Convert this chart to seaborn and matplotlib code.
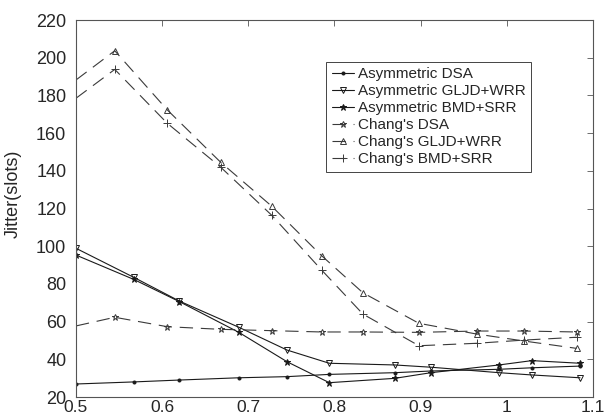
import matplotlib
matplotlib.use("Agg")
import matplotlib.pyplot as plt
import seaborn as sns
import pandas as pd
from matplotlib.ticker import FuncFormatter

# Load values for the asymmetric schemes
x_asym = [0.5, 0.567, 0.62, 0.689, 0.745, 0.794, 0.870, 0.912, 0.991, 1.029, 1.085]
asym_dsa = [26.9, 28.0, 29.0, 30.2, 30.8, 32.0, 32.9, 33.8, 34.7, 35.5, 36.4]
asym_gljd = [98.9, 83.5, 70.9, 57.0, 44.9, 37.9, 37.0, 35.8, 32.9, 31.7, 30.2]
asym_bmd = [95.3, 82.4, 70.6, 54.3, 38.7, 27.6, 29.9, 32.9, 37.0, 39.3, 37.9]

# Load values for Chang's schemes
x_chang = [0.5, 0.545, 0.606, 0.668, 0.727, 0.785, 0.833, 0.898, 0.965, 1.02, 1.081]
chang_dsa = [57.7, 62.3, 57.3, 55.9, 55.2, 54.5, 54.5, 54.3, 55.0, 55.0, 54.5]
chang_gljd = [188.2, 203.7, 172.3, 144.5, 121.3, 95.0, 75.3, 59.1, 53.4, 49.7, 45.8]
chang_bmd = [178.5, 193.8, 165.2, 141.9, 116.5, 87.4, 64.0, 47.2, 48.5, 50.2, 51.7]

x_ticks = [0.5, 0.6, 0.7, 0.8, 0.9, 1.0, 1.1]
y_ticks = [20, 40, 60, 80, 100, 120, 140, 160, 180, 200, 220]

sns.set_style("white")
plt.rcParams["font.family"] = ["Liberation Sans", "DejaVu Sans"]

fig = plt.figure(figsize=(6.05, 4.19), dpi=100)
ax = fig.add_axes([0.1256, 0.0525, 0.8545, 0.8997])

solid = "#1a1a1a"
dashed = "#3a3a3a"
dash_pat = (0, (12, 7))
skip_first = list(range(1, len(x_chang)))

series = [
    ("Asymmetric DSA", x_asym, asym_dsa, dict(marker="o", markersize=2.2, color=solid,
                                              linestyle="-", markerfacecolor=solid)),
    ("Asymmetric GLJD+WRR", x_asym, asym_gljd, dict(marker="v", markersize=4.5, color=solid,
                                                    linestyle="-", markerfacecolor="none")),
    ("Asymmetric BMD+SRR", x_asym, asym_bmd, dict(marker="*", markersize=4.5, color=solid,
                                                  linestyle="-", markerfacecolor=solid)),
    ("Chang's DSA", x_chang, chang_dsa, dict(marker="*", markersize=4.5, color=dashed,
                                             linestyle=dash_pat, markerfacecolor="none",
                                             markevery=skip_first)),
    ("Chang's GLJD+WRR", x_chang, chang_gljd, dict(marker="^", markersize=4.5, color=dashed,
                                                   linestyle=dash_pat, markerfacecolor="none",
                                                   markevery=skip_first)),
    ("Chang's BMD+SRR", x_chang, chang_bmd, dict(marker="+", markersize=6, color=dashed,
                                                 linestyle=dash_pat, markevery=skip_first)),
]

for label, xs, ys, style in series:
    df = pd.DataFrame({"load": xs, "jitter": ys})
    sns.lineplot(data=df, x="load", y="jitter", ax=ax, sort=False, label=label,
                 linewidth=0.8, markeredgewidth=0.7, markeredgecolor=style["color"], **style)

ax.set_xlim(0.5, 1.1)
ax.set_ylim(20, 220)
ax.set_xticks(x_ticks)
ax.set_yticks(y_ticks)
ax.xaxis.set_major_formatter(FuncFormatter(lambda v, p: f"{v:g}"))
ax.set_xlabel("")
ax.set_ylabel("Jitter(slots)", fontsize=13)
ax.yaxis.set_label_coords(-0.105, 0.538)
ax.tick_params(direction="in", length=4, width=0.6, labelsize=13,
               top=True, right=True, color="#555555")
ax.tick_params(axis="x", pad=2, labelsize=12.5)
ax.tick_params(axis="y", pad=7)
for s in ax.spines.values():
    s.set_linewidth(0.8)
    s.set_color("#555555")

leg = ax.legend(loc="upper left", bbox_to_anchor=(0.484, 0.889), fontsize=11,
                frameon=True, fancybox=False, framealpha=1, edgecolor="#444444",
                handlelength=1.5, handletextpad=0.25, labelspacing=0.2,
                borderpad=0.35, borderaxespad=0)
leg.get_frame().set_linewidth(0.7)

fig.savefig("out.png", dpi=100)
